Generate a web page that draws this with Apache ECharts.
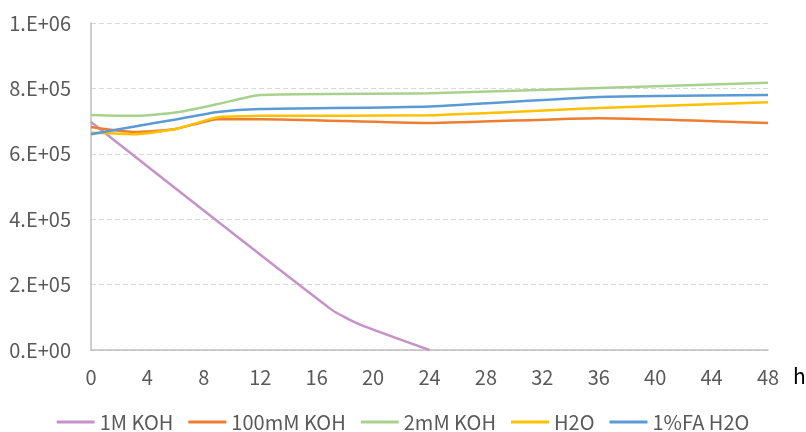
<!DOCTYPE html>
<html>
<head>
<meta charset="utf-8">
<script src="https://cdn.jsdelivr.net/npm/echarts@6/dist/echarts.min.js"></script>
<style>
html,body{margin:0;padding:0;background:#fff;}
#chart{width:806px;height:432px;}
</style>
</head>
<body>
<div id="chart"></div>
<script>
const seriesNames = ['1M KOH', '100mM KOH', '2mM KOH', 'H2O', '1%FA H2O'];
const hours1M = [0, 17, 19, 24];
const values1M = [697000, 125000, 79000, 0];
const hoursOther = [0, 3, 6, 9, 12, 24, 36, 48];
const values100mM = [682000, 667000, 676000, 706000, 706000, 694000, 709000, 694000];
const values2mM = [719000, 716000, 726000, 752000, 780000, 785000, 801000, 817000];
const valuesH2O = [664000, 660000, 676000, 712000, 716000, 718000, 740000, 758000];
const valuesFA = [660000, 683000, 705000, 728000, 737000, 745000, 774000, 780000];
const xTicks = [0, 4, 8, 12, 16, 20, 24, 28, 32, 36, 40, 44, 48];
const yTickLabels = ['0.E+00', '2.E+05', '4.E+05', '6.E+05', '8.E+05', '1.E+06'];
const colors = ['#C792C9', '#ED7D31', '#A9D18E', '#FFC000', '#5B9BD5'];

const pairs = (xs, ys) => xs.map((x, i) => [x, ys[i]]);
const seriesData = [
  pairs(hours1M, values1M),
  pairs(hoursOther, values100mM),
  pairs(hoursOther, values2mM),
  pairs(hoursOther, valuesH2O),
  pairs(hoursOther, valuesFA)
];

const font = '"Noto Sans CJK SC", "Noto Sans", sans-serif';
const chart = echarts.init(document.getElementById('chart'), null, {renderer: 'canvas'});
chart.setOption({
  animation: false,
  color: colors,
  grid: {left: 91, right: 38, top: 23, bottom: 82, containLabel: false},
  legend: {
    top: 407,
    left: 'center',
    icon: 'rect',
    itemWidth: 38,
    itemHeight: 3,
    itemGap: 15,
    textStyle: {color: '#595959', fontSize: 20, fontFamily: font},
    data: seriesNames
  },
  xAxis: {
    type: 'value',
    min: 0, max: 48, interval: 4,
    axisLine: {show: true, lineStyle: {color: '#BFBFBF', width: 1.5}},
    axisTick: {show: false},
    splitLine: {show: false},
    axisLabel: {color: '#595959', fontSize: 20, fontFamily: font, margin: 17,
      formatter: v => xTicks.includes(v) ? String(v) : ''}
  },
  yAxis: {
    type: 'value',
    min: 0, max: 1000000, interval: 200000,
    axisLine: {show: true, lineStyle: {color: '#BFBFBF', width: 1.5}},
    axisTick: {show: false},
    splitLine: {show: true, lineStyle: {color: '#D9D9D9', type: [5, 3], width: 1}},
    axisLabel: {color: '#595959', fontSize: 20, fontFamily: font, margin: 20,
      formatter: v => yTickLabels[Math.round(v / 200000)]}
  },
  graphic: [{
    type: 'text', left: 793, top: 366,
    style: {text: 'h', fill: '#000', fontSize: 21, fontFamily: font}
  }],
  series: seriesNames.map((name, i) => ({
    name: name,
    type: 'line',
    data: seriesData[i],
    symbol: 'none',
    smooth: 0.2,
    lineStyle: {width: 2.5, color: colors[i]},
    itemStyle: {color: colors[i]}
  }))
});
</script>
</body>
</html>
